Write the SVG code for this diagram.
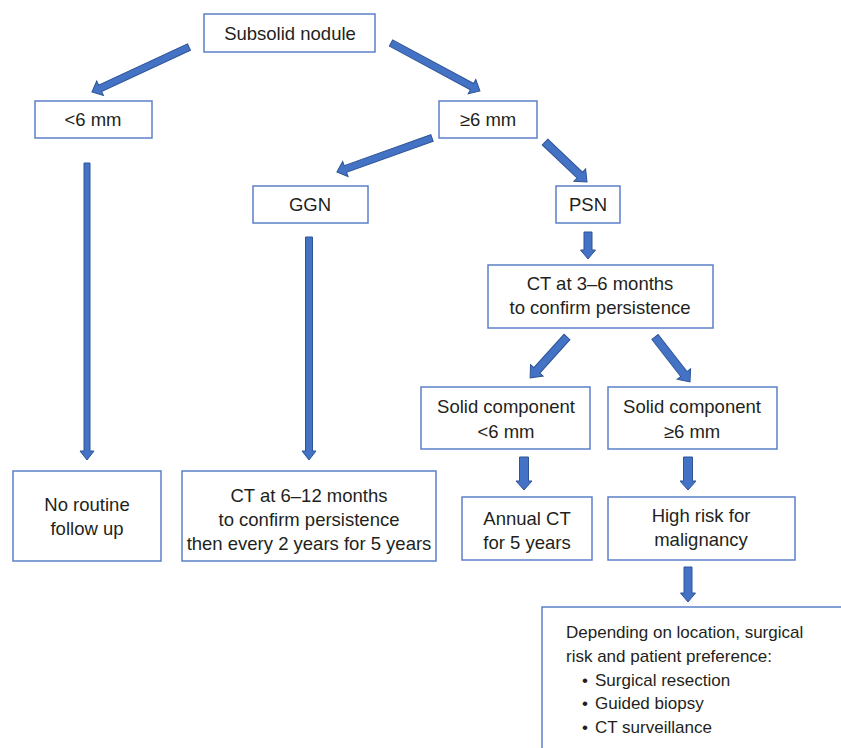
<svg xmlns="http://www.w3.org/2000/svg" width="841" height="748" viewBox="0 0 841 748">
<style>
.box{fill:#fff;stroke:#5B80C8;stroke-width:1.5}
.t{font-family:"Liberation Sans",Arial,sans-serif;font-size:18.5px;fill:#231F20;text-anchor:middle}
.tl{font-family:"Liberation Sans",Arial,sans-serif;font-size:17px;fill:#231F20}
.ar{fill:#4472C4;stroke:#2F5597;stroke-width:1}
</style>
<rect width="841" height="748" fill="#fff"/>
<g id="connectors">
<polygon class="ar" transform="translate(189,47) rotate(155.1)" points="0,-3.5 98,-3.5 98,-8 107,0 98,8 98,3.5 0,3.5"/>
<polygon class="ar" transform="translate(391,43) rotate(28.3)" points="0,-3.5 92,-3.5 92,-8 101,0 92,8 92,3.5 0,3.5"/>
<polygon class="ar" transform="translate(432,138) rotate(160.3)" points="0,-3.5 92,-3.5 92,-8 101,0 92,8 92,3.5 0,3.5"/>
<polygon class="ar" transform="translate(545,142) rotate(43.6)" points="0,-4 48,-4 48,-8.5 58,0 48,8.5 48,4 0,4"/>
<polygon class="ar" transform="translate(588,232) rotate(90)" points="0,-4 18,-4 18,-7.5 27,0 18,7.5 18,4 0,4"/>
<polygon class="ar" transform="translate(567,337) rotate(132.1)" points="0,-4 45,-4 45,-8.5 55,0 45,8.5 45,4 0,4"/>
<polygon class="ar" transform="translate(655,337) rotate(52.1)" points="0,-4 47,-4 47,-8.5 57,0 47,8.5 47,4 0,4"/>
<polygon class="ar" transform="translate(524,457) rotate(90)" points="0,-4.5 24,-4.5 24,-8 33,0 24,8 24,4.5 0,4.5"/>
<polygon class="ar" transform="translate(688,457) rotate(90)" points="0,-4.5 24,-4.5 24,-8 33,0 24,8 24,4.5 0,4.5"/>
<polygon class="ar" transform="translate(688,567) rotate(90)" points="0,-4 26,-4 26,-7.5 35,0 26,7.5 26,4 0,4"/>
<polygon class="ar" transform="translate(87,163) rotate(90)" points="0,-3 288,-3 288,-7 297,0 288,7 288,3 0,3"/>
<polygon class="ar" transform="translate(309,237) rotate(90)" points="0,-3.5 214,-3.5 214,-7 223,0 214,7 214,3.5 0,3.5"/>
</g>
<g id="subsolid"><rect class="box" x="204" y="14" width="171" height="38"/><text class="t" x="290" y="40">Subsolid nodule</text></g>
<g id="lt6"><rect class="box" x="35" y="101" width="117" height="37"/><text class="t" x="93" y="126">&lt;6 mm</text></g>
<g id="ge6"><rect class="box" x="439" y="101" width="98" height="37"/><text class="t" x="488" y="126">≥6 mm</text></g>
<g id="ggn"><rect class="box" x="253" y="186" width="115" height="37"/><text class="t" x="310" y="211">GGN</text></g>
<g id="psn"><rect class="box" x="556" y="186" width="64" height="37"/><text class="t" x="588" y="211">PSN</text></g>
<g id="ct36"><rect class="box" x="488" y="265" width="225" height="63"/><text class="t" x="600" y="290">CT at 3–6 months</text><text class="t" x="600" y="314">to confirm persistence</text></g>
<g id="solidlt6"><rect class="box" x="421" y="387" width="169" height="62"/><text class="t" x="506" y="413">Solid component</text><text class="t" x="506" y="438">&lt;6 mm</text></g>
<g id="solidge6"><rect class="box" x="608" y="387" width="169" height="62"/><text class="t" x="692" y="413">Solid component</text><text class="t" x="692" y="438">≥6 mm</text></g>
<g id="noroutine"><rect class="box" x="13" y="471" width="148" height="90"/><text class="t" x="87" y="511">No routine</text><text class="t" x="87" y="535">follow up</text></g>
<g id="ct612"><rect class="box" x="182" y="471" width="254" height="90"/><text class="t" x="309" y="502">CT at 6–12 months</text><text class="t" x="309" y="526">to confirm persistence</text><text class="t" x="309" y="550">then every 2 years for 5 years</text></g>
<g id="annual"><rect class="box" x="462" y="497" width="130" height="63"/><text class="t" x="527" y="525">Annual CT</text><text class="t" x="527" y="549">for 5 years</text></g>
<g id="highrisk"><rect class="box" x="608" y="497" width="187" height="63"/><text class="t" x="701" y="522">High risk for</text><text class="t" x="701" y="546">malignancy</text></g>
<g id="depending"><rect class="box" x="542" y="607" width="320" height="160"/>
<text class="tl" x="566" y="638">Depending on location, surgical</text>
<text class="tl" x="566" y="662">risk and patient preference:</text>
<text class="tl" x="582" y="686">•</text><text class="tl" x="595" y="686">Surgical resection</text>
<text class="tl" x="582" y="709">•</text><text class="tl" x="595" y="709">Guided biopsy</text>
<text class="tl" x="582" y="733">•</text><text class="tl" x="595" y="733">CT surveillance</text>
</g>
</svg>
